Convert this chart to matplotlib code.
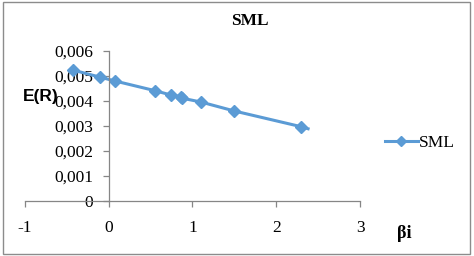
import matplotlib
matplotlib.use("Agg")
import matplotlib.pyplot as plt
from matplotlib.patches import Rectangle
from matplotlib.legend_handler import HandlerLine2D

beta = [-0.43, -0.10, 0.075, 0.556, 0.742, 0.857, 0.88, 1.10, 1.50, 2.30, 2.38]
er = [0.00524, 0.00495, 0.00480, 0.00441, 0.00424, 0.00417, 0.00411, 0.00396, 0.00360, 0.00297, 0.00289]
xticks = [-1, 0, 1, 2, 3]
yticks = [0, 0.001, 0.002, 0.003, 0.004, 0.005, 0.006]
ytick_labels = ["0", "0,001", "0,002", "0,003", "0,004", "0,005", "0,006"]

serif = "Liberation Serif"
plt.rcParams["font.family"] = [serif, "DejaVu Serif"]
color = "#5B9BD5"
axcol = "#868686"

fig = plt.figure(figsize=(4.74, 2.56), dpi=100)
fig.patches.append(Rectangle((0.006, 0.008), 0.986, 0.984, transform=fig.transFigure,
                             fill=False, edgecolor="#8c8c8c", linewidth=1.0))

ax = fig.add_axes([0.0527, 0.2148, 0.7068, 0.586])
ax.plot(beta, er, color=color, linewidth=2.2, marker="D", markersize=6.5,
        markevery=list(range(len(beta) - 1)), label="SML", clip_on=False)
ax.set_xlim(-1, 3)
ax.set_ylim(0, 0.006)
ax.spines["left"].set_position(("data", 0))
ax.spines["bottom"].set_position(("data", 0))
ax.spines["top"].set_visible(False)
ax.spines["right"].set_visible(False)
for s in ("left", "bottom"):
    ax.spines[s].set_color(axcol)
    ax.spines[s].set_linewidth(0.9)
ax.tick_params(axis="both", colors=axcol, length=4, width=0.9, labelcolor="black",
               labelsize=12.5)
ax.tick_params(axis="x", pad=10)
ax.tick_params(axis="y", pad=7)
ax.set_xticks(xticks)
ax.set_xticklabels([str(t) for t in xticks])
ax.set_yticks(yticks)
ax.set_yticklabels(ytick_labels)
ax.patch.set_visible(False)

fig.text(0.527, 0.918, "SML", ha="center", va="center", fontsize=12.5,
         fontweight="bold")
fig.text(0.048, 0.622, "E(R)", ha="left", va="center", fontsize=12.5,
         fontweight="bold", family="Liberation Sans")
fig.text(0.838, 0.088, "βi", ha="left", va="center", fontsize=13,
         fontweight="bold")

leg = fig.legend(loc="center left", bbox_to_anchor=(0.812, 0.443), frameon=False,
                 prop={"size": 12.5}, handlelength=1.9,
                 handletextpad=0.05, borderpad=0.0, borderaxespad=0.0)
for h in leg.legend_handles:
    h.set_markersize(5)

fig.savefig("out.png", dpi=100)
